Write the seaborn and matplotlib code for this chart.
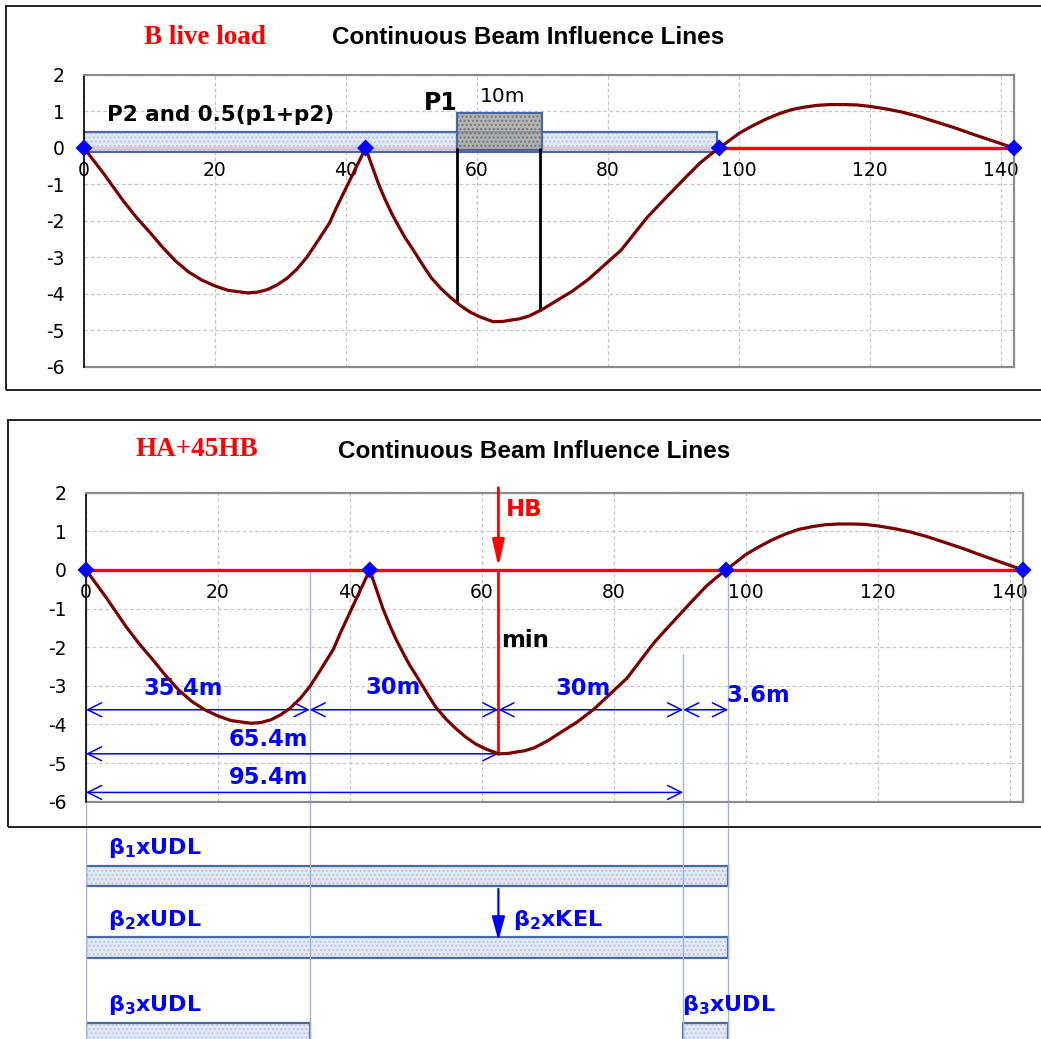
import matplotlib
matplotlib.use('Agg')
import matplotlib.pyplot as plt
from matplotlib.patches import Rectangle
import numpy as np
import pandas as pd
import seaborn as sns

# influence line ordinates (x in m)
span_x = [0, 3, 6, 8, 10, 12, 14, 16, 18, 20, 22, 25, 26.5, 28, 29.5, 31, 32.5, 34, 35.5,
          37.5, 38.5, 40, 41.5, 43,
          44, 45, 46, 47, 48, 49, 50, 51, 52, 53, 54.5, 56, 57.5, 59, 60.5, 62.5, 64, 65,
          66.5, 68, 70, 72, 74.5, 77, 79.5, 82, 84, 86, 88, 90, 92, 94, 95.5,
          97, 98.5, 100, 102, 104, 106, 108, 110, 112, 114, 116, 118, 120, 122.5, 125,
          127.5, 130, 133, 136, 139, 142]
infl_y = [0, -0.7, -1.45, -1.9, -2.3, -2.72, -3.1, -3.4, -3.62, -3.78, -3.9, -3.97, -3.95, -3.88,
          -3.75, -3.57, -3.32, -3.0, -2.6, -2.05, -1.65, -1.1, -0.55, 0,
          -0.5, -1.0, -1.42, -1.8, -2.13, -2.45, -2.72, -3.0, -3.28, -3.55, -3.85, -4.1, -4.32,
          -4.5, -4.63, -4.76, -4.75, -4.72, -4.68, -4.6, -4.42, -4.2, -3.93, -3.6, -3.2, -2.8,
          -2.35, -1.9, -1.52, -1.15, -0.78, -0.42, -0.2,
          0.0, 0.2, 0.40, 0.6, 0.78, 0.93, 1.05, 1.12, 1.17, 1.19, 1.19, 1.18, 1.14, 1.07, 0.98,
          0.86, 0.72, 0.55, 0.36, 0.18, 0]
supports = [0, 43, 97, 142]
support_y = [0, 0, 0, 0]
xticks = [0, 20, 40, 60, 80, 100, 120, 140]
yticks = [-6, -5, -4, -3, -2, -1, 0, 1, 2]

# B live load
band_span = [0, 96.7]
p1_span = [56.9, 70.0]
p1_cuts = [56.9, 69.6]

# HA + 45 HB
hb_x = 62.5
dim_row1 = [0, 33.9, 62.5, 90.5, 97.3]
dim_row3 = [0, 90.5]
dim_labels = ['35.4m', '30m', '30m', '3.6m', '65.4m', '95.4m']
guide_x = [0, 33.9, 90.5, 97.3]
guide_top = [0, 0, -2.17, 0]
udl_full = [0, 97.3]
udl_parts = [[0, 33.9], [90.5, 97.3]]

curve = pd.DataFrame({'x': span_x, 'y': infl_y})
sup = pd.DataFrame({'x': supports, 'y': support_y})

W, H = 1041, 1039
sns.set_style('white')
plt.rcParams['font.family'] = ['DejaVu Sans']
plt.rcParams['text.color'] = 'black'
plt.rcParams['xtick.color'] = 'black'
plt.rcParams['ytick.color'] = 'black'
plt.rcParams['axes.unicode_minus'] = False
plt.rcParams['mathtext.fontset'] = 'custom'
plt.rcParams['mathtext.bf'] = 'DejaVu Sans:bold'
plt.rcParams['mathtext.rm'] = 'DejaVu Sans'

fig = plt.figure(figsize=(W / 100, H / 100), dpi=100)


def box(l, t, r, b):
    return [l / W, 1 - b / H, (r - l) / W, (b - t) / H]


ax1 = fig.add_axes(box(84, 75, 1014, 367))
ax2 = fig.add_axes(box(86, 492.7, 1023, 801.7))
ax3 = fig.add_axes(box(86, 801.7, 1023, 1039))

# outer chart frames
fig.add_artist(Rectangle((6 / W, 1 - 390 / H), 1.2, 384 / H, transform=fig.transFigure,
                         fill=False, ec='#222222', lw=1.4))
fig.add_artist(Rectangle((8 / W, 1 - 826.7 / H), 1.2, 406.7 / H, transform=fig.transFigure,
                         fill=False, ec='#222222', lw=1.4))

RED = '#ff0000'
CURVE = '#7a0000'
BLUE = '#0000ff'
EDGE = '#4a6a9f'


def style(ax):
    ax.set_xlim(0, 142)
    ax.set_ylim(-6, 2)
    ax.set_xticks(xticks)
    ax.set_yticks(yticks)
    ax.set_axisbelow(True)
    ax.grid(True, color='#c8c8c8', ls=(0, (3, 2)), lw=0.9)
    for s in ['top', 'right']:
        ax.spines[s].set_color('#8c8c8c')
        ax.spines[s].set_linewidth(1.6)
    ax.spines['left'].set_color('black')
    ax.spines['left'].set_linewidth(1.2)
    ax.spines['bottom'].set_position(('data', 0))
    ax.spines['bottom'].set_color('none')
    ax.axhline(-6, color='#8c8c8c', lw=1.6, clip_on=False)
    ax.tick_params(axis='x', direction='out', length=3.5, width=1, pad=6,
                   color='#333333', labelsize=13.5)
    ax.tick_params(axis='y', direction='out', length=5, width=1, pad=9,
                   color='#333333', labelsize=13.5)
    ax.set_xlabel('')
    ax.set_ylabel('')


def strip(ax, x0, x1, y0, h, face='#dde5f3', dots='#b4c3e0', alpha=0.85, z=2):
    ax.add_patch(Rectangle((x0, y0), x1 - x0, h, fc=face, ec=dots, lw=0,
                           hatch='....', alpha=alpha, zorder=z))
    ax.add_patch(Rectangle((x0, y0), x1 - x0, h, fill=False, ec=EDGE, lw=1.6, zorder=z + 0.1))


# ---- top: B live load ----
style(ax1)
ax1.plot([0, 142], [0, 0], color=RED, lw=2.4, zorder=1.5)
strip(ax1, band_span[0], band_span[1], -0.1, 0.55)
strip(ax1, p1_span[0], p1_span[1], -0.05, 1.0, face='#a2a2a2', dots='#6a6a6a', alpha=0.8, z=2.5)
cut_y = np.interp(p1_cuts, span_x, infl_y)
ax1.vlines(p1_cuts, cut_y, 0, color='black', lw=2, zorder=3)
sns.lineplot(data=curve, x='x', y='y', ax=ax1, color=CURVE, lw=2.3, sort=False,
             estimator=None, zorder=4)
sns.scatterplot(data=sup, x='x', y='y', ax=ax1, marker='D', s=75, color=BLUE,
                edgecolor='none', clip_on=False, zorder=5)
ax1.set_xlabel('')
ax1.set_ylabel('')
ax1.text(3.5, 0.9, 'P2 and 0.5(p1+p2)', fontsize=15.5, fontweight='bold', va='center')
ax1.text(54.4, 1.23, 'P1', fontsize=17, fontweight='bold', ha='center', va='center')
ax1.text(63.9, 1.42, '10m', fontsize=14.5, ha='center', va='center')

fig.text(205 / W, 1 - 37 / H, 'B live load', color=RED, fontsize=19.5, fontweight='bold',
         family='Liberation Serif', ha='center', va='center')
fig.text(528 / W, 1 - 37 / H, 'Continuous Beam Influence Lines', fontsize=17.5,
         fontweight='bold', family='Liberation Sans', ha='center', va='center')

# ---- bottom: HA + 45HB ----
style(ax2)
ax2.vlines(guide_x, guide_top, -6, color='#9fb4df', lw=1.0, zorder=1.2)
ax2.plot([0, 142], [0, 0], color=RED, lw=2.4, zorder=1.5)
sns.lineplot(data=curve, x='x', y='y', ax=ax2, color=CURVE, lw=2.3, sort=False,
             estimator=None, zorder=4)
sns.scatterplot(data=sup, x='x', y='y', ax=ax2, marker='D', s=75, color=BLUE,
                edgecolor='none', clip_on=False, zorder=5)
ax2.set_xlabel('')
ax2.set_ylabel('')

min_y = float(np.interp(hb_x, span_x, infl_y))
ax2.plot([hb_x, hb_x], [0, min_y], color=RED, lw=2, zorder=3)
ax2.annotate('', xy=(hb_x, 0.08), xytext=(hb_x, 2.13), annotation_clip=False,
             arrowprops=dict(arrowstyle='-|>,head_length=0.8,head_width=0.18', color=RED,
                             lw=2, mutation_scale=20, shrinkA=0, shrinkB=0))
ax2.text(63.6, 1.57, 'HB', color=RED, fontsize=16.5, fontweight='bold', va='center')
ax2.text(62.9, -1.83, 'min', color='black', fontsize=16.5, fontweight='bold', va='center')

arrow_kw = dict(arrowstyle='<->', color=BLUE, lw=1.1, mutation_scale=25, shrinkA=0, shrinkB=0)
for a, b in zip(dim_row1[:-1], dim_row1[1:]):
    ax2.annotate('', xy=(a, -3.62), xytext=(b, -3.62), arrowprops=arrow_kw)
ax2.annotate('', xy=(0, min_y), xytext=(hb_x, min_y), arrowprops=arrow_kw)
ax2.annotate('', xy=(dim_row3[0], -5.76), xytext=(dim_row3[1], -5.76), arrowprops=arrow_kw)

lab_kw = dict(color=BLUE, fontsize=16.3, fontweight='bold', va='center')
ax2.text(14.7, -3.07, dim_labels[0], ha='center', **lab_kw)
ax2.text(46.6, -3.05, dim_labels[1], ha='center', **lab_kw)
ax2.text(75.3, -3.07, dim_labels[2], ha='center', **lab_kw)
ax2.text(97.1, -3.25, dim_labels[3], ha='left', **lab_kw)
ax2.text(27.6, -4.4, dim_labels[4], ha='center', **lab_kw)
ax2.text(27.6, -5.38, dim_labels[5], ha='center', **lab_kw)

fig.text(197 / W, 1 - 450 / H, 'HA+45HB', color=RED, fontsize=19.5, fontweight='bold',
         family='Liberation Serif', ha='center', va='center')
fig.text(534 / W, 1 - 452 / H, 'Continuous Beam Influence Lines', fontsize=17.5,
         fontweight='bold', family='Liberation Sans', ha='center', va='center')

# ---- load arrangements below ----
ax3.set_xlim(0, 142)
ax3.set_ylim(0, 237.3)
ax3.axis('off')
ax3.vlines(guide_x, 0, 237.3, color='#9fb4df', lw=1.0, zorder=3)
strip(ax3, udl_full[0], udl_full[1], 153.3, 20)
strip(ax3, udl_full[0], udl_full[1], 80.7, 21)
for x0, x1 in udl_parts:
    strip(ax3, x0, x1, -10, 25.7)
ax3.annotate('', xy=(hb_x, 98.5), xytext=(hb_x, 150), annotation_clip=False,
             arrowprops=dict(arrowstyle='-|>,head_length=0.8,head_width=0.22', color=BLUE,
                             lw=1.6, mutation_scale=18, shrinkA=0, shrinkB=0))
b_kw = dict(color=BLUE, fontsize=16, va='center')
ax3.text(3.4, 191, r'$\mathbf{β_1xUDL}$', **b_kw)
ax3.text(3.4, 119, r'$\mathbf{β_2xUDL}$', **b_kw)
ax3.text(64.7, 119, r'$\mathbf{β_2xKEL}$', **b_kw)
ax3.text(3.4, 34, r'$\mathbf{β_3xUDL}$', **b_kw)
ax3.text(90.3, 34, r'$\mathbf{β_3xUDL}$', **b_kw)

fig.savefig('out.png', dpi=100)
